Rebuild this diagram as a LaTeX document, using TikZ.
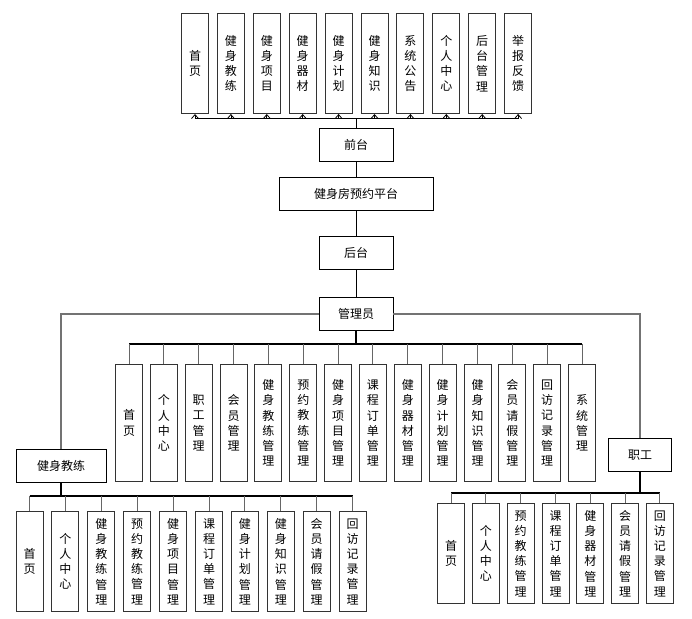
\documentclass[tikz,border=0pt]{standalone}
\usepackage{fontspec}
\setmainfont{Noto Sans CJK SC}
\usetikzlibrary{arrows.meta}
\begin{document}
\begin{tikzpicture}[x=1pt,y=-1pt,
  mainbox/.style={draw=black, line width=0.9pt, minimum height=33pt, inner sep=0pt, font=\fontsize{12}{14}\selectfont},
  childbox/.style={draw=black!80, line width=1pt, minimum width=27pt, inner sep=0pt, align=center, anchor=north, font=\fontsize{12}{15.2}\selectfont},
  arr/.style={draw=black, line width=0.8pt, -{Straight Barb[length=4pt,width=7pt]}},
  link/.style={draw=black, line width=0.9pt},
  bus/.style={draw=black, line width=1.4pt},
  stub/.style={draw=black!60, line width=1pt},
  side/.style={draw=black!55, line width=1.3pt}
]
\useasboundingbox (0,0) rectangle (692,618);

% top children
\foreach \t [count=\i from 0] in {{首\\页},{健\\身\\教\\练},{健\\身\\项\\目},{健\\身\\器\\材},{健\\身\\计\\划},{健\\身\\知\\识},{系\\统\\公\\告},{个\\人\\中\\心},{后\\台\\管\\理},{举\\报\\反\\馈}}
  \node[childbox, minimum height=100pt] (t\i) at ({195+35.9*\i},13) {\t};

\node[mainbox, minimum width=74pt] (qt) at (356,145) {前台};
\node[mainbox, minimum width=154pt] (pt) at (356,194) {健身房预约平台};
\node[mainbox, minimum width=74pt] (ht) at (356,253) {后台};
\node[mainbox, minimum width=74pt] (gly) at (356,314) {管理员};
\node[mainbox, minimum width=90pt] (jl) at (61,466) {健身教练};
\node[mainbox, minimum width=63pt] (zg) at (640,455) {职工};

\foreach \i in {0,...,9}
  \draw[arr] (qt.north) -- ++(0,-10) -| (t\i.south);
\draw[link] (qt.north) -- ++(0,-10);
\draw[link] (qt.south) -- (pt.north);
\draw[link] (pt.south) -- (ht.north);
\draw[link] (ht.south) -- (gly.north);
\draw[side] (gly.west) -| (jl.north);
\draw[side] (gly.east) -| (zg.north);

% manager children
\foreach \t [count=\i from 0] in {{首\\页},{个\\人\\中\\心},{职\\工\\管\\理},{会\\员\\管\\理},{健\\身\\教\\练\\管\\理},{预\\约\\教\\练\\管\\理},{健\\身\\项\\目\\管\\理},{课\\程\\订\\单\\管\\理},{健\\身\\器\\材\\管\\理},{健\\身\\计\\划\\管\\理},{健\\身\\知\\识\\管\\理},{会\\员\\请\\假\\管\\理},{回\\访\\记\\录\\管\\理},{系\\统\\管\\理}}
  \node[childbox, minimum height=117pt] (m\i) at ({129+34.85*\i},364) {\t};
\draw[bus] (gly.south) -- ++(0,13) coordinate (mb);
\draw[bus] (m0.north |- mb) -- (m13.north |- mb);
\foreach \i in {0,...,13}
  \draw[stub] (m\i.north |- mb) -- (m\i.north);

% coach children
\foreach \t [count=\i from 0] in {{首\\页},{个\\人\\中\\心},{健\\身\\教\\练\\管\\理},{预\\约\\教\\练\\管\\理},{健\\身\\项\\目\\管\\理},{课\\程\\订\\单\\管\\理},{健\\身\\计\\划\\管\\理},{健\\身\\知\\识\\管\\理},{会\\员\\请\\假\\管\\理},{回\\访\\记\\录\\管\\理}}
  \node[childbox, minimum height=100pt] (c\i) at ({29.5+35.9*\i},511) {\t};
\draw[bus] (jl.south) -- ++(0,13) coordinate (cb);
\draw[bus] (c0.north |- cb) -- (c9.north |- cb);
\foreach \i in {0,...,9}
  \draw[stub] (c\i.north |- cb) -- (c\i.north);

% staff children
\foreach \t [count=\i from 0] in {{首\\页},{个\\人\\中\\心},{预\\约\\教\\练\\管\\理},{课\\程\\订\\单\\管\\理},{健\\身\\器\\材\\管\\理},{会\\员\\请\\假\\管\\理},{回\\访\\记\\录\\管\\理}}
  \node[childbox, minimum height=100pt] (s\i) at ({451+34.83*\i},503) {\t};
\draw[bus] (zg.south) -- ++(0,21) coordinate (sb);
\draw[bus] (s0.north |- sb) -- (s6.north |- sb);
\foreach \i in {0,...,6}
  \draw[stub] (s\i.north |- sb) -- (s\i.north);
\end{tikzpicture}
\end{document}
